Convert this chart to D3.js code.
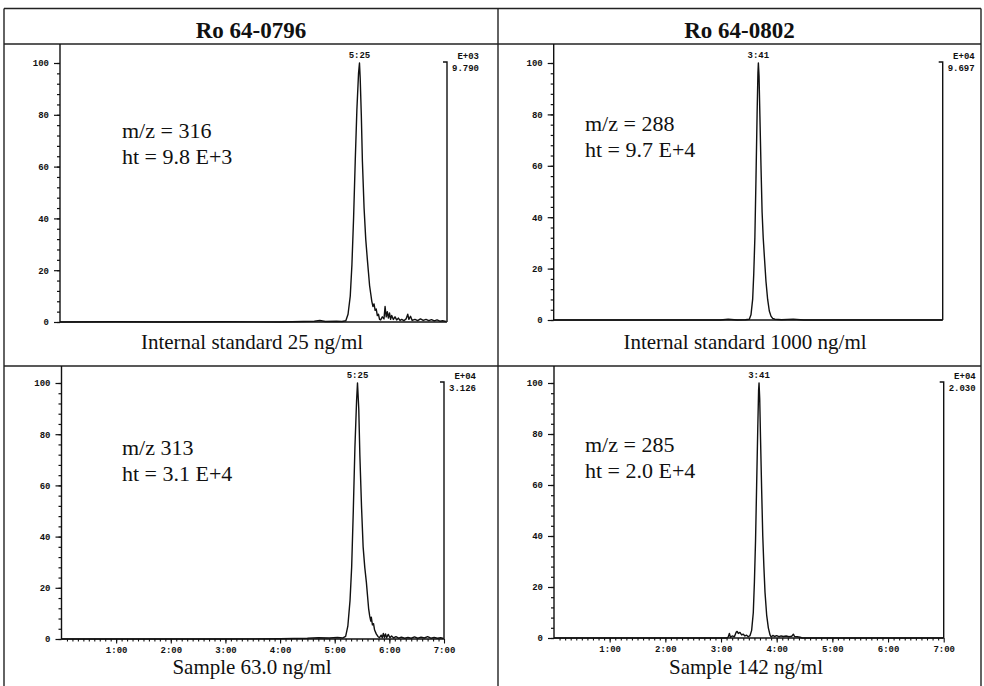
<!DOCTYPE html>
<html>
<head>
<meta charset="utf-8">
<script src="https://cdn.jsdelivr.net/npm/d3@7"></script>
<style>
  body { margin: 0; background: #fff; }
  svg { display: block; }
</style>
</head>
<body>
<div id="chart"></div>
<script>
// Chromatograms: two compounds (columns), internal standard on top, sample below

// ---- data ----
const compounds = ["Ro 64-0796", "Ro 64-0802"];
const captions = ["Internal standard 25 ng/ml", "Sample 63.0 ng/ml", "Internal standard 1000 ng/ml", "Sample 142 ng/ml"];
const mzLabels = ["m/z = 316", "m/z 313", "m/z = 288", "m/z = 285"];
const htLabels = ["ht = 9.8 E+3", "ht = 3.1 E+4", "ht = 9.7 E+4", "ht = 2.0 E+4"];
const peakLabels = ["5:25", "5:25", "3:41", "3:41"];
const scaleExp = ["E+03", "E+04", "E+04", "E+04"];
const scaleMax = ["9.790", "3.126", "9.697", "2.030"];
const yTicks = [0, 20, 40, 60, 80, 100];
const xTicks = [1, 2, 3, 4, 5, 6, 7];
const xTickLabels = ["1:00", "2:00", "3:00", "4:00", "5:00", "6:00", "7:00"];

// [time (min), relative abundance %]
const traceIS316 = [[0,0],[1,0.1],[2,0],[3,0.1],[4,0],[4.6,0.3],[4.7,0.6],[4.8,0.2],[5,0.3],[5.1,0.2],[5.17,0.5],
  [5.21,3],[5.25,10],[5.28,22],[5.31,40],[5.34,62],[5.37,82],[5.4,96],[5.417,100],[5.43,94],[5.45,80],[5.47,62],
  [5.5,44],[5.53,32],[5.56,24],[5.58,19],[5.6,14],[5.62,11],[5.64,8],[5.66,6],[5.68,7],[5.7,4.5],[5.72,5],[5.74,2.5],
  [5.76,3],[5.78,1],[5.8,0.8],[5.83,2],[5.86,1.2],[5.88,6],[5.9,2],[5.92,4],[5.94,1.5],[5.96,3.5],[5.98,1],[6,2.5],
  [6.03,1],[6.06,2],[6.09,0.8],[6.12,1.5],[6.15,0.6],[6.18,1],[6.22,0.5],[6.26,1.2],[6.29,3],[6.31,1],[6.34,2.2],
  [6.37,0.6],[6.42,1],[6.47,0.5],[6.52,1.2],[6.57,0.6],[6.62,1],[6.67,0.5],[6.72,0.9],[6.77,0.4],[6.82,0.8],
  [6.87,0.3],[6.92,0.5],[6.98,0.2]];
const traceS313 = [[0,0],[1,0],[2,0],[3,0],[4,0.1],[4.5,0.3],[4.7,0.5],[4.9,0.4],[5.05,0.6],[5.15,0.4],[5.2,1],
  [5.24,5],[5.28,15],[5.31,28],[5.34,50],[5.37,75],[5.4,93],[5.417,100],[5.44,90],[5.46,72],[5.49,52],[5.52,36],
  [5.55,28],[5.58,22],[5.6,17],[5.62,12],[5.64,9],[5.66,7],[5.67,8.5],[5.69,5.5],[5.71,6],[5.73,3.5],[5.76,2],
  [5.79,1],[5.82,0.5],[5.85,1.5],[5.87,0.5],[5.89,2.2],[5.91,0.6],[5.93,2],[5.95,0.5],[5.98,1.8],[6.01,0.5],
  [6.04,1.2],[6.08,0.4],[6.12,0.9],[6.17,0.3],[6.22,0.7],[6.28,0.3],[6.34,0.6],[6.4,0.3],[6.46,0.8],[6.52,0.3],
  [6.58,0.7],[6.64,0.4],[6.7,0.9],[6.76,0.3],[6.82,0.6],[6.88,0.3],[6.94,0.5],[6.99,0.2]];
const traceIS288 = [[0,0],[1,0],[2,0],[3,0],[3.14,0.3],[3.3,0],[3.45,0.1],[3.52,0.3],[3.55,2],[3.58,8],[3.6,18],
  [3.62,32],[3.64,55],[3.66,80],[3.675,96],[3.683,100],[3.695,95],[3.71,80],[3.73,60],[3.75,42],[3.77,32],
  [3.79,25],[3.82,15],[3.85,8],[3.88,3.5],[3.91,1.5],[3.94,0.6],[3.98,0.3],[4.1,0.1],[4.31,0.3],[4.5,0],[5,0],[6,0],[7,0]];
const traceS285 = [[0,0],[1,0],[2,0],[3,0],[3.1,0],[3.13,0.4],[3.15,1.8],[3.17,0.3],[3.2,0.8],[3.24,0.5],[3.27,2.2],
  [3.29,2.6],[3.31,1.8],[3.34,2.2],[3.37,1.2],[3.4,1.5],[3.43,0.8],[3.46,1.1],[3.49,0.5],[3.52,0.9],[3.55,3],
  [3.58,10],[3.6,22],[3.62,38],[3.64,60],[3.66,82],[3.675,97],[3.683,100],[3.695,94],[3.71,78],[3.73,58],[3.75,40],
  [3.77,28],[3.79,18],[3.82,9],[3.85,4],[3.88,1.2],[3.9,0.4],[3.93,1],[3.96,0.6],[4,0.9],[4.04,0.5],[4.08,0.8],
  [4.12,0.6],[4.17,0.8],[4.22,0.5],[4.27,0.7],[4.3,1.5],[4.32,0.6],[4.37,0.5],[4.42,0.3],[4.46,0],[5,0],[6,0],[7,0]];
const traces = [traceIS316, traceS313, traceIS288, traceS285];

// ---- layout ----
const W = 984, H = 686;
const SERIF = "'Liberation Serif', 'Times New Roman', serif";
const MONO = "'Liberation Mono', 'DejaVu Sans Mono', monospace";
const table = { left: 4, right: 981, top: 8.5, head: 44, mid: 498, row: 366 };
// pixel box of each plot (x0/x1 = 0:00 and 7:00, y0/y1 = 0 and 100 %)
const panels = [
  { x0: 60, x1: 447, y0: 322, y1: 63, top: table.head, labelled: false, cx: 252, txtX: 122, txtY: 138, capY: 349 },
  { x0: 61.5, x1: 444, y0: 639, y1: 383, top: table.row, labelled: true, cx: 252, txtX: 122, txtY: 455, capY: 674 },
  { x0: 553.7, x1: 942.7, y0: 320, y1: 63, top: table.head, labelled: false, cx: 745, txtX: 585, txtY: 131, capY: 349 },
  { x0: 554, x1: 943.7, y0: 638, y1: 383, top: table.row, labelled: true, cx: 746, txtX: 585, txtY: 452, capY: 674 }
];

const svg = d3.select("#chart").append("svg")
  .attr("width", W)
  .attr("height", H);

// small printer-style labels
function mono(sel) {
  return sel.style("font-family", MONO).style("font-size", "9px").style("font-weight", "bold").attr("fill", "#111");
}
function serif(sel, size) {
  return sel.style("font-family", SERIF).style("font-size", size + "px").attr("fill", "#111");
}

// table grid
const grid = svg.append("g").attr("stroke", "#222").attr("stroke-width", 1.4).attr("fill", "none");
grid.append("line").attr("x1", table.left).attr("x2", table.right).attr("y1", table.top).attr("y2", table.top);
grid.append("line").attr("x1", table.left).attr("x2", table.right).attr("y1", table.head).attr("y2", table.head);
grid.append("line").attr("x1", table.left).attr("x2", table.right).attr("y1", table.row).attr("y2", table.row);
grid.append("line").attr("x1", table.left).attr("x2", table.left).attr("y1", table.top).attr("y2", H);
grid.append("line").attr("x1", table.mid).attr("x2", table.mid).attr("y1", table.top).attr("y2", H);
grid.append("line").attr("x1", table.right).attr("x2", table.right).attr("y1", table.top).attr("y2", H);

// column headings
compounds.forEach(function (c, i) {
  svg.append("text")
    .call(serif, 23)
    .style("font-weight", "bold")
    .attr("x", i === 0 ? (table.left + table.mid) / 2 : (table.mid + table.right) / 2)
    .attr("y", 38)
    .attr("text-anchor", "middle")
    .text(c);
});

panels.forEach(function (p, i) {
  const x = d3.scaleLinear().domain([0, 7]).range([p.x0, p.x1]);
  const y = d3.scaleLinear().domain([0, 100]).range([p.y0, p.y1]);
  const g = svg.append("g");

  // y axis: long line up to the cell top, major + minor ticks
  g.append("line")
    .attr("x1", p.x0).attr("x2", p.x0)
    .attr("y1", p.top).attr("y2", p.y0)
    .attr("stroke", "#111").attr("stroke-width", 1.4);
  const yMinor = g.append("g")
    .attr("transform", `translate(${p.x0},0)`)
    .call(d3.axisLeft(y).tickValues(d3.range(0, 101, 4)).tickSize(3).tickFormat(""));
  const yMajor = g.append("g")
    .attr("transform", `translate(${p.x0},0)`)
    .call(d3.axisLeft(y).tickValues(yTicks).tickSize(6).tickPadding(5));
  [yMinor, yMajor].forEach(function (a) {
    a.select(".domain").remove();
    a.selectAll("line").attr("stroke", "#111").attr("stroke-width", 1.2);
  });
  yMajor.selectAll("text").call(mono);

  // x axis
  g.append("line")
    .attr("x1", p.x0).attr("x2", p.x1)
    .attr("y1", p.y0).attr("y2", p.y0)
    .attr("stroke", "#111").attr("stroke-width", 1.4);
  if (p.labelled) {
    const xMinor = g.append("g")
      .attr("transform", `translate(0,${p.y0})`)
      .call(d3.axisBottom(x).tickValues(d3.range(1, 70).map(function (k) { return k / 10; })).tickSize(2.5).tickFormat(""));
    const xMajor = g.append("g")
      .attr("transform", `translate(0,${p.y0})`)
      .call(d3.axisBottom(x).tickValues(xTicks).tickSize(4.5).tickPadding(3)
        .tickFormat(function (d, k) { return xTickLabels[k]; }));
    [xMinor, xMajor].forEach(function (a) {
      a.select(".domain").remove();
      a.selectAll("line").attr("stroke", "#111").attr("stroke-width", 1.1);
    });
    xMajor.selectAll("text").call(mono);
  }

  // right frame with the little corner tick and full-scale value
  g.append("path")
    .attr("d", `M${p.x1 - 4},${y(100) - 1}H${p.x1}V${p.y0}`)
    .attr("fill", "none").attr("stroke", "#111").attr("stroke-width", 1.4);
  g.append("text").call(mono)
    .attr("x", p.x1 + 32).attr("y", y(100) - 4)
    .attr("text-anchor", "end")
    .text(scaleExp[i]);
  g.append("text").call(mono)
    .attr("x", p.x1 + 32).attr("y", y(100) + 8)
    .attr("text-anchor", "end")
    .text(scaleMax[i]);

  // trace
  const line = d3.line()
    .x(function (d) { return x(d[0]); })
    .y(function (d) { return y(d[1]); });
  g.append("path")
    .datum(traces[i])
    .attr("d", line)
    .attr("fill", "none")
    .attr("stroke", "#111")
    .attr("stroke-width", 1.4)
    .attr("stroke-linejoin", "round");

  // retention time above the apex
  const apex = traces[i].reduce(function (a, b) { return b[1] > a[1] ? b : a; });
  g.append("text").call(mono)
    .attr("x", x(apex[0]))
    .attr("y", y(apex[1]) - 5)
    .attr("text-anchor", "middle")
    .text(peakLabels[i]);

  // ion / height annotation
  g.append("text").call(serif, 22)
    .attr("x", p.txtX).attr("y", p.txtY).text(mzLabels[i]);
  g.append("text").call(serif, 22)
    .attr("x", p.txtX).attr("y", p.txtY + 26).text(htLabels[i]);

  // caption under the plot
  g.append("text").call(serif, 21)
    .attr("x", p.cx).attr("y", p.capY)
    .attr("text-anchor", "middle")
    .text(captions[i]);
});
</script>
</body>
</html>
